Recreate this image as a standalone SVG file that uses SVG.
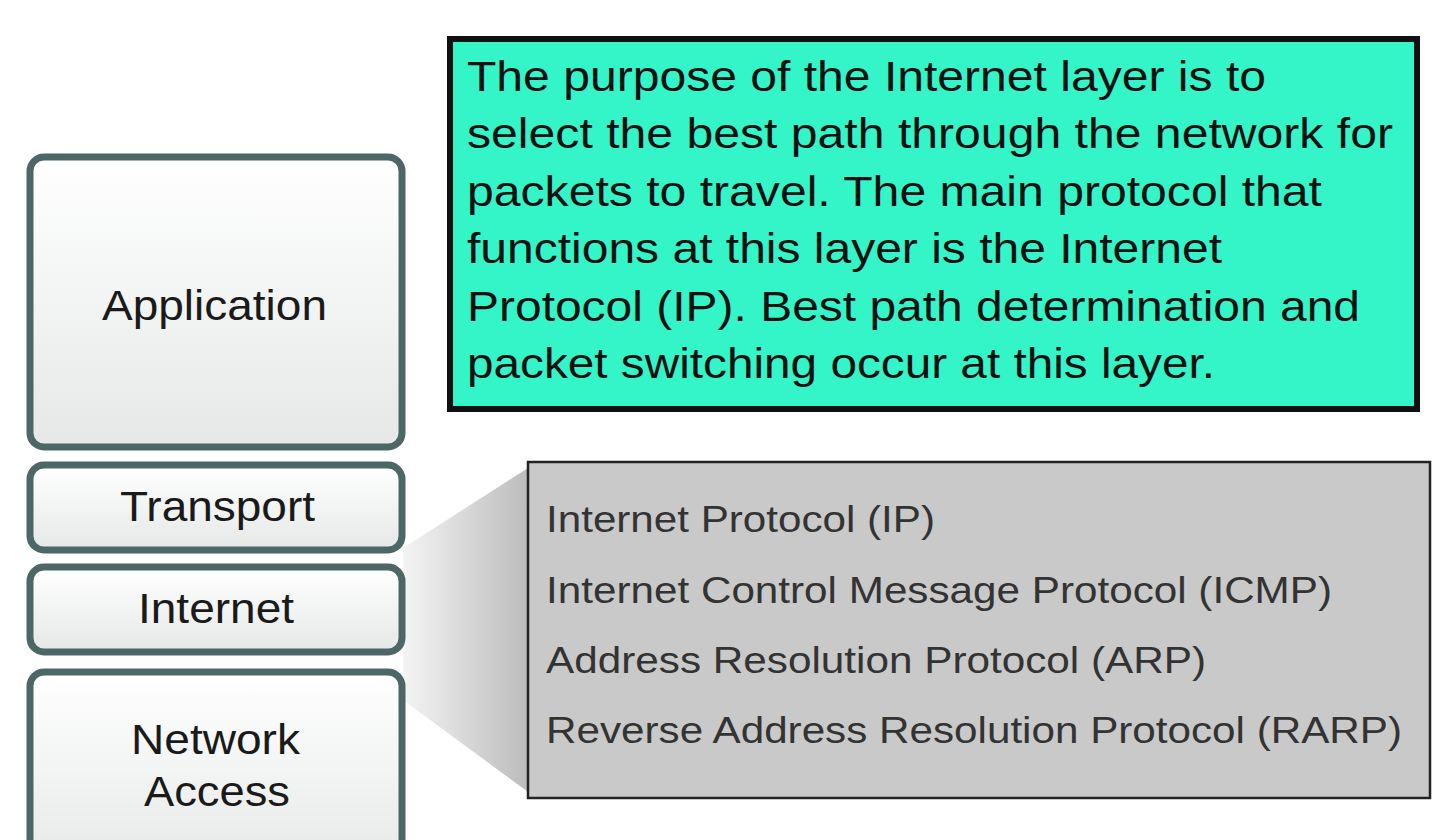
<svg xmlns="http://www.w3.org/2000/svg" width="1440" height="840" viewBox="0 0 1440 840">
<defs>
<linearGradient id="lay" x1="0" y1="0" x2="0" y2="1"><stop offset="0" stop-color="#ffffff"/><stop offset="1" stop-color="#e6e8e8"/></linearGradient>
<linearGradient id="fun" x1="0" y1="0" x2="1" y2="0"><stop offset="0" stop-color="#f4f4f4"/><stop offset="1" stop-color="#bcbcbc"/></linearGradient>
<style>
.layer{fill:url(#lay);stroke:#4d6666;stroke-width:7}
.lt{font-family:"Liberation Sans",Arial,sans-serif;font-size:42px;fill:#1a1a1a}
.gt{font-family:"Liberation Sans",Arial,sans-serif;font-size:43px;fill:#111}
.pt{font-family:"Liberation Sans",Arial,sans-serif;font-size:37px;fill:#333}
</style>
</defs>
<rect width="1440" height="840" fill="#ffffff"/>
<g id="connectors"><polygon points="403,548 528,468 528,792 403,700" fill="url(#fun)"/></g>
<g id="application"><rect class="layer" x="30" y="157" width="372" height="290" rx="14"/><text class="lt" x="102" y="320" textLength="225" lengthAdjust="spacingAndGlyphs">Application</text></g>
<g id="transport"><rect class="layer" x="30" y="465" width="372" height="85" rx="14"/><text class="lt" x="120" y="521" textLength="195" lengthAdjust="spacingAndGlyphs">Transport</text></g>
<g id="internet"><rect class="layer" x="30" y="567" width="372" height="85" rx="14"/><text class="lt" x="138" y="623" textLength="156" lengthAdjust="spacingAndGlyphs">Internet</text></g>
<g id="network-access"><rect class="layer" x="30" y="672" width="372" height="200" rx="14"/><text class="lt" x="131" y="754" textLength="169" lengthAdjust="spacingAndGlyphs">Network</text><text class="lt" x="144" y="806" textLength="146" lengthAdjust="spacingAndGlyphs">Access</text></g>
<g id="description"><rect x="450" y="39" width="967" height="370" fill="#33f5c8" stroke="#111" stroke-width="6"/>
<text class="gt" x="467" y="91" textLength="799" lengthAdjust="spacingAndGlyphs">The purpose of the Internet layer is to</text>
<text class="gt" x="467" y="148" textLength="926" lengthAdjust="spacingAndGlyphs">select the best path through the network for</text>
<text class="gt" x="467" y="206" textLength="855" lengthAdjust="spacingAndGlyphs">packets to travel. The main protocol that</text>
<text class="gt" x="467" y="263" textLength="755" lengthAdjust="spacingAndGlyphs">functions at this layer is the Internet</text>
<text class="gt" x="467" y="321" textLength="893" lengthAdjust="spacingAndGlyphs">Protocol (IP). Best path determination and</text>
<text class="gt" x="467" y="378" textLength="748" lengthAdjust="spacingAndGlyphs">packet switching occur at this layer.</text></g>
<g id="protocols"><rect x="528" y="462" width="902" height="336" fill="#c9c9c9" stroke="#222" stroke-width="2.5"/>
<text class="pt" x="546" y="532" textLength="389" lengthAdjust="spacingAndGlyphs">Internet Protocol (IP)</text>
<text class="pt" x="546" y="603" textLength="786" lengthAdjust="spacingAndGlyphs">Internet Control Message Protocol (ICMP)</text>
<text class="pt" x="546" y="673" textLength="660" lengthAdjust="spacingAndGlyphs">Address Resolution Protocol (ARP)</text>
<text class="pt" x="546" y="743" textLength="856" lengthAdjust="spacingAndGlyphs">Reverse Address Resolution Protocol (RARP)</text></g>
</svg>
